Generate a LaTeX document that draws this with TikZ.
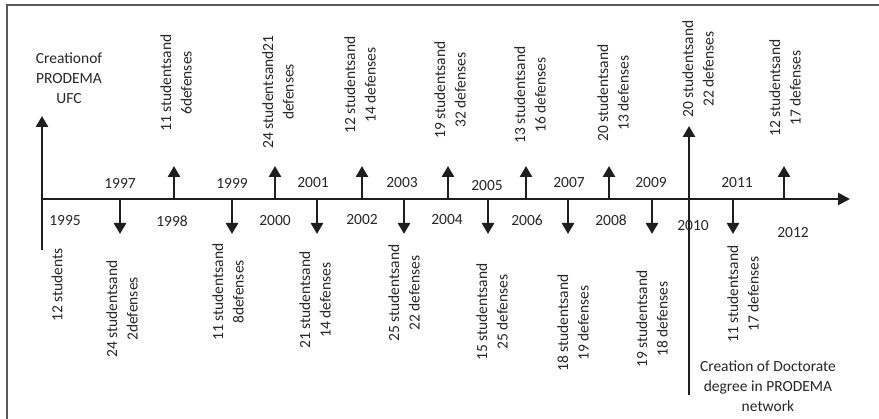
\documentclass[tikz,border=0pt]{standalone}
\usepackage{fontspec}
\setmainfont{Carlito}
\usetikzlibrary{arrows.meta}
\definecolor{ink}{HTML}{1E1E1E}
\definecolor{txt}{HTML}{262626}
\definecolor{framec}{HTML}{5A5A5A}
\begin{document}
\begin{tikzpicture}[x=1pt,y=-1pt,
  tl/.style={-{Triangle[width=12pt,length=11pt]}, line width=2.6pt, draw=ink},
  axisline/.style={-{Triangle[width=12pt,length=12pt]}, line width=2.8pt, draw=ink},
  yr/.style={font=\fontsize{15.5}{18}\selectfont, text=txt, inner sep=0pt},
  lab/.style={rotate=90, align=center, font=\fontsize{15.5}{20.5}\selectfont, text=txt, inner sep=0pt},
  hl/.style={align=center, font=\fontsize{15.5}{20}\selectfont, text=txt, inner sep=0pt}]
\useasboundingbox (0,0) rectangle (879,419);
\draw[framec, line width=1.6pt] (7,419) -- (7,5) -- (879,5);

% axis
\coordinate (start) at (42,199);
\coordinate (end) at (850,199);
\draw[axisline] (start) -- (end);

% 1995
\coordinate (s95) at (42,250);
\coordinate (t95) at (42,116);
\draw[tl] (s95) -- (t95);
% 2010
\coordinate (s10) at (689,395);
\coordinate (t10) at (689,126);
\draw[tl] (s10) -- (t10);

% up arrows
\foreach \n/\x in {98/174, 00/275, 02/362, 04/448, 06/526, 08/609, 12/784}{
  \coordinate (a\n) at (\x,199);
  \coordinate (u\n) at (\x,166);
  \draw[tl] (a\n) -- (u\n);
}
% down arrows
\foreach \n/\x in {97/120, 99/232, 01/317, 03/404, 05/488, 07/568, 09/652, 11/733}{
  \coordinate (a\n) at (\x,199);
  \coordinate (d\n) at (\x,234);
  \draw[tl] (a\n) -- (d\n);
}

% year labels
\node[yr] (y1995) at (65,221) {1995};
\node[yr] (y1997) at (120,183) {1997};
\node[yr] (y1998) at (172,221) {1998};
\node[yr] (y1999) at (232,183) {1999};
\node[yr] (y2000) at (275,221) {2000};
\node[yr] (y2001) at (313,183) {2001};
\node[yr] (y2002) at (362,220) {2002};
\node[yr] (y2003) at (402,183) {2003};
\node[yr] (y2004) at (447,220) {2004};
\node[yr] (y2005) at (487,186) {2005};
\node[yr] (y2006) at (527,220) {2006};
\node[yr] (y2007) at (569,183) {2007};
\node[yr] (y2008) at (611,220) {2008};
\node[yr] (y2009) at (651,183) {2009};
\node[yr] (y2010) at (693,226) {2010};
\node[yr] (y2011) at (737,183) {2011};
\node[yr] (y2012) at (793,233) {2012};

% top labels
\node[lab] (l98) at (176,83) {11 studentsand\\6defenses};
\node[lab] (l00) at (278,92) {24 studentsand21\\defenses};
\node[lab] (l02) at (360,85) {12 studentsand\\14 defenses};
\node[lab] (l04) at (450,90) {19 studentsand\\32 defenses};
\node[lab] (l06) at (530,95) {13 studentsand\\16 defenses};
\node[lab] (l08) at (613,93) {20 studentsand\\13 defenses};
\node[lab] (l10) at (698,69) {20 studentsand\\22 defenses};
\node[lab] (l12) at (785,88) {12 studentsand\\17 defenses};

% bottom labels
\node[lab] (l95) at (57,285) {12 students};
\node[lab] (l97) at (122,309) {24 studentsand\\2defenses};
\node[lab] (l99) at (228,292) {11 studentsand\\8defenses};
\node[lab] (l01) at (315,300) {21 studentsand\\14 defenses};
\node[lab] (l03) at (404,293) {25 studentsand\\22 defenses};
\node[lab] (l05) at (492,312) {15 studentsand\\25 defenses};
\node[lab] (l07) at (573,323) {18 studentsand\\19 defenses};
\node[lab] (l09) at (652,319) {19 studentsand\\18 defenses};
\node[lab] (l11) at (743,294) {11 studentsand\\17 defenses};

% event labels
\node[hl] (c95) at (69,78) {Creationof\\PRODEMA\\UFC};
\node[hl] (c10) at (768,386) {Creation of Doctorate\\degree in PRODEMA\\network};
\end{tikzpicture}
\end{document}
